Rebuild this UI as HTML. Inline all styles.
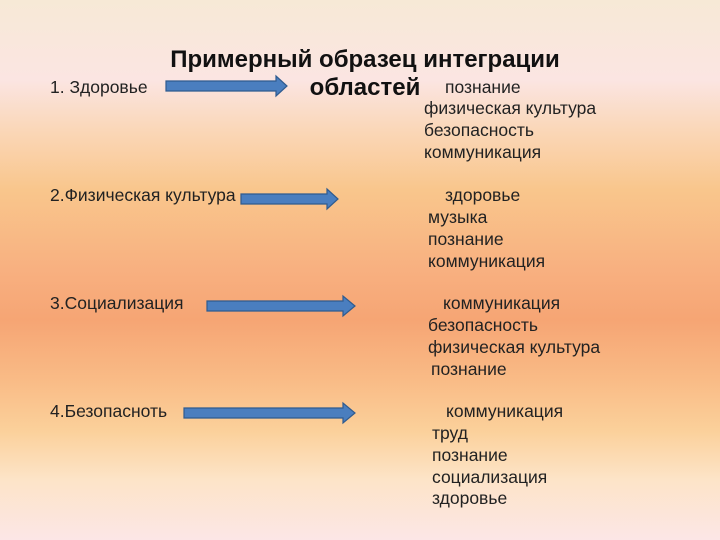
<!DOCTYPE html>
<html><head><meta charset="utf-8"><style>
body{margin:0;width:720px;height:540px;overflow:hidden;position:relative;
background:linear-gradient(to bottom,#f7e9d6 0px,#fbe5e2 80px,#fad7b8 130px,#f9c68c 190px,#f8b080 270px,#f6a574 320px,#f9bb86 380px,#fbd09a 430px,#fde4c8 480px,#fce6e6 540px);
font-family:"Liberation Sans",sans-serif;color:#222;}
.t{position:absolute;font-size:17.5px;white-space:nowrap;line-height:17px}
.h{position:absolute;font-family:"Liberation Sans",sans-serif;font-weight:bold;font-size:24px;text-align:center;width:500px;left:115px;line-height:28px;top:46px;color:#111}
svg{position:absolute;left:0;top:0}
</style></head><body>
<svg width="720" height="540">
<g fill="#4a7ebf" stroke="#2f5b8f" stroke-width="1.2">
<polygon points="166,81 276,81 276,76 287,86 276,96 276,91 166,91"/>
<polygon points="241,194 327,194 327,189 338,199 327,209 327,204 241,204"/>
<polygon points="207,301 343,301 343,296 355,306 343,316 343,311 207,311"/>
<polygon points="184,408 343,408 343,403 355,413 343,423 343,418 184,418"/>
</g></svg>
<div class="h">Примерный образец интеграции<br>областей</div>
<div class="t" style="left:50px;top:79px">1. Здоровье</div>
<div class="t" style="left:445px;top:79px">познание</div>
<div class="t" style="left:424px;top:100px">физическая культура</div>
<div class="t" style="left:424px;top:122px">безопасность</div>
<div class="t" style="left:424px;top:144px">коммуникация</div>
<div class="t" style="left:50px;top:187px">2.Физическая культура</div>
<div class="t" style="left:445px;top:187px">здоровье</div>
<div class="t" style="left:428px;top:209px">музыка</div>
<div class="t" style="left:428px;top:231px">познание</div>
<div class="t" style="left:428px;top:253px">коммуникация</div>
<div class="t" style="left:50px;top:295px">3.Социализация</div>
<div class="t" style="left:443px;top:295px">коммуникация</div>
<div class="t" style="left:428px;top:317px">безопасность</div>
<div class="t" style="left:428px;top:339px">физическая культура</div>
<div class="t" style="left:431px;top:361px">познание</div>
<div class="t" style="left:50px;top:403px">4.Безопасноть</div>
<div class="t" style="left:446px;top:403px">коммуникация</div>
<div class="t" style="left:432px;top:425px">труд</div>
<div class="t" style="left:432px;top:447px">познание</div>
<div class="t" style="left:432px;top:469px">социализация</div>
<div class="t" style="left:432px;top:490px">здоровье</div>
</body></html>
